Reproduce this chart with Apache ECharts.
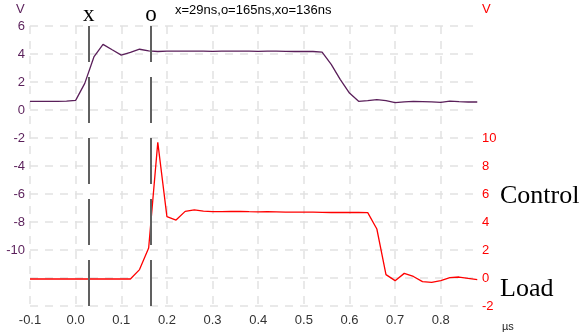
<!DOCTYPE html>
<html>
<head>
<meta charset="utf-8">
<script src="https://cdn.jsdelivr.net/npm/echarts@6/dist/echarts.min.js"></script>
<style>
  html, body { margin: 0; padding: 0; background: #fff; }
  #chart { width: 581px; height: 333px; }
</style>
</head>
<body>
<div id="chart"></div>
<script>
// Sample times (µs)
var times = [
  -0.10, -0.08, -0.06, -0.04, -0.02, 0.00, 0.02, 0.04, 0.06, 0.08,
   0.10,  0.12,  0.14,  0.16,  0.18, 0.20, 0.22, 0.24, 0.26, 0.28,
   0.30,  0.32,  0.34,  0.36,  0.38, 0.40, 0.42, 0.44, 0.46, 0.48,
   0.50,  0.52,  0.54,  0.56,  0.58, 0.60, 0.62, 0.64, 0.66, 0.68,
   0.70,  0.72,  0.74,  0.76,  0.78, 0.80, 0.82, 0.84, 0.86, 0.88
];

// Control voltage (V, left axis)
var control = [
  0.62, 0.62, 0.62, 0.62, 0.63, 0.69, 1.90, 3.79, 4.69, 4.30,
  3.92, 4.12, 4.34, 4.22, 4.18, 4.21, 4.20, 4.20, 4.21, 4.20,
  4.19, 4.20, 4.21, 4.20, 4.20, 4.19, 4.20, 4.20, 4.19, 4.18,
  4.19, 4.18, 4.14, 3.26, 2.17, 1.21, 0.62, 0.67, 0.74, 0.67,
  0.53, 0.58, 0.62, 0.60, 0.58, 0.55, 0.64, 0.60, 0.57, 0.57
];

// Load voltage (V, right axis)
var load = [
  -0.07, -0.07, -0.07, -0.07, -0.07, -0.07, -0.07, -0.07, -0.07, -0.07,
  -0.07, -0.07,  0.60,  2.14,  9.69,  4.38,  4.14,  4.76,  4.86,  4.78,
   4.74,  4.74,  4.75,  4.76,  4.74,  4.73,  4.74,  4.72,  4.70,  4.70,
   4.71,  4.70,  4.69,  4.68,  4.68,  4.68,  4.68,  4.67,  3.50,  0.24,
  -0.19,  0.33,  0.11, -0.26, -0.31, -0.19,  0.02,  0.07, -0.03, -0.12
];

// Cursor positions (µs)
var cursorX = 0.029;
var cursorO = 0.165;
var cursorText = 'x=29ns,o=165ns,xo=136ns';

var purple = '#5a1f5a';
var red = '#ff0000';

function pairs(ys) {
  return times.map(function (t, i) { return [t, ys[i]]; });
}

function cursor(x, name) {
  return [
    { coord: [x, -14] },
    { coord: [x, 6], label: { formatter: name } }
  ];
}

var chart = echarts.init(document.getElementById('chart'), null, { renderer: 'canvas' });

chart.setOption({
  animation: false,
  grid: { left: 30, right: 101, top: 26, bottom: 27 },
  xAxis: {
    type: 'value',
    min: -0.1,
    max: 0.886,
    interval: 0.1,
    axisLine: { show: false },
    axisTick: { show: false },
    axisLabel: {
      color: '#333',
      fontSize: 13,
      fontFamily: 'Liberation Sans',
      margin: 8,
      showMaxLabel: false,
      formatter: function (v) {
        return Math.abs(v * 10 - Math.round(v * 10)) < 1e-6 ? v.toFixed(1) : '';
      }
    },
    splitLine: {
      show: true,
      showMaxLine: false,
      lineStyle: { color: '#e2e2e2', width: 1.5, type: [8, 7] }
    }
  },
  yAxis: [
    {
      type: 'value',
      position: 'left',
      min: -14,
      max: 6,
      interval: 2,
      axisLine: { show: false },
      axisTick: { show: false },
      axisLabel: {
        color: purple,
        fontSize: 13,
        fontFamily: 'Liberation Sans',
        margin: 5,
        formatter: function (v) { return v < -10 ? '' : String(v); }
      },
      splitLine: {
        show: true,
        lineStyle: { color: '#e2e2e2', width: 1.5, type: [8, 7] }
      }
    },
    {
      type: 'value',
      position: 'right',
      min: -2,
      max: 18,
      interval: 2,
      axisLine: { show: false },
      axisTick: { show: false },
      axisLabel: {
        color: red,
        fontSize: 13,
        fontFamily: 'Liberation Sans',
        margin: 2,
        formatter: function (v) { return v > 10 ? '' : String(v); }
      },
      splitLine: { show: false }
    }
  ],
  series: [
    {
      name: 'Control',
      type: 'line',
      yAxisIndex: 0,
      data: pairs(control),
      showSymbol: false,
      lineStyle: { color: purple, width: 1.3 },
      z: 3,
      markLine: {
        silent: true,
        symbol: 'none',
        lineStyle: { color: '#606060', width: 2, type: [46, 15] },
        label: {
          show: true,
          position: 'end',
          distance: 0,
          color: '#000',
          fontSize: 23,
          fontFamily: 'Liberation Serif'
        },
        data: [cursor(cursorX, 'x'), cursor(cursorO, 'o')]
      }
    },
    {
      name: 'Load',
      type: 'line',
      yAxisIndex: 1,
      data: pairs(load),
      showSymbol: false,
      lineStyle: { color: red, width: 1.3 },
      z: 4
    }
  ],
  graphic: [
    { type: 'text', left: 16, top: 3, style: { text: 'V', fill: purple, fontSize: 13, fontFamily: 'Liberation Sans' } },
    { type: 'text', left: 482, top: 3, style: { text: 'V', fill: red, fontSize: 13, fontFamily: 'Liberation Sans' } },
    { type: 'text', left: 175, top: 4, style: { text: cursorText, fill: '#000', fontSize: 13, fontFamily: 'Liberation Sans' } },
    { type: 'text', left: 500, top: 183, style: { text: 'Control', fill: '#000', fontSize: 26, fontFamily: 'Liberation Serif' } },
    { type: 'text', left: 500, top: 276, style: { text: 'Load', fill: '#000', fontSize: 26, fontFamily: 'Liberation Serif' } },
    { type: 'text', left: 502, top: 321, style: { text: 'µs', fill: '#222', fontSize: 11, fontFamily: 'Liberation Sans' } }
  ]
});
</script>
</body>
</html>
